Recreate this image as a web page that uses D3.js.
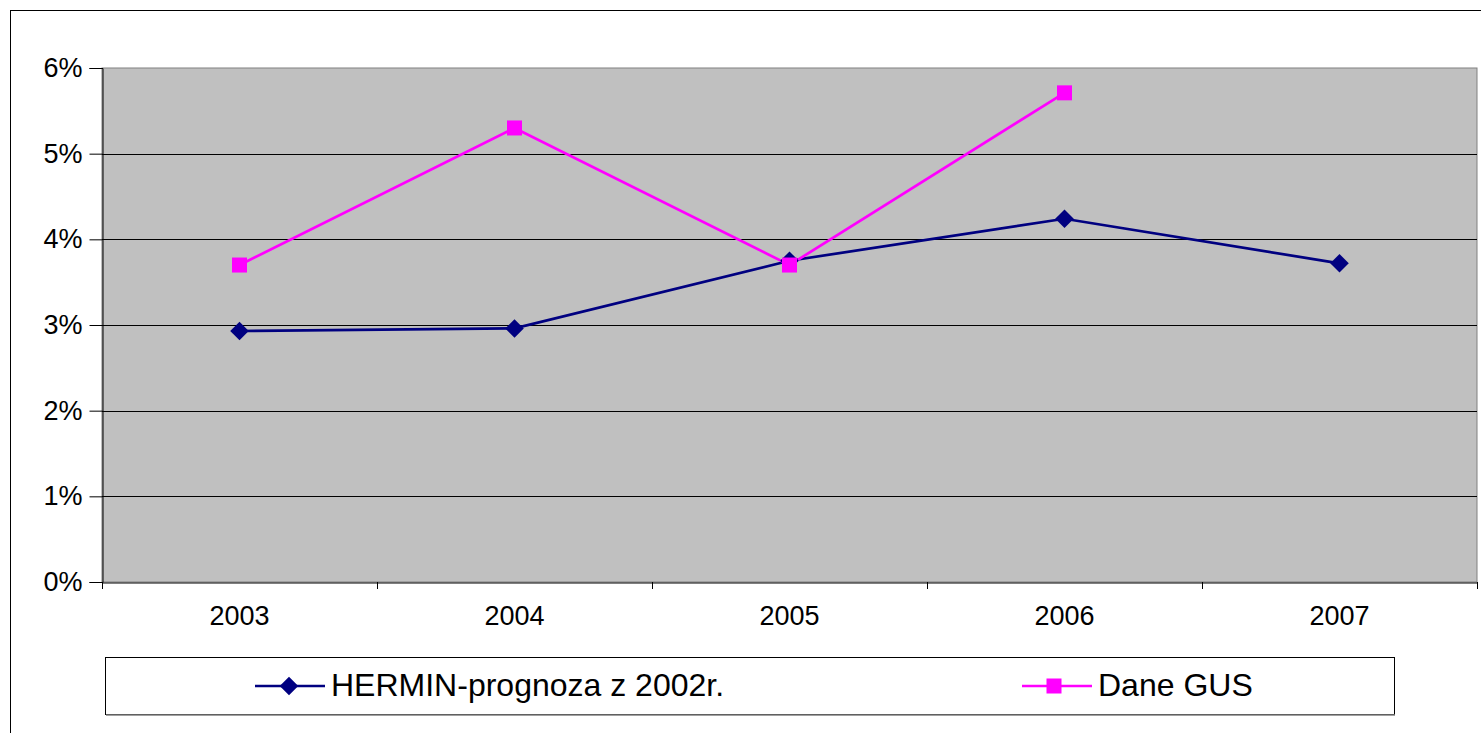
<!DOCTYPE html>
<html>
<head>
<meta charset="utf-8">
<script src="https://cdn.jsdelivr.net/npm/d3@7"></script>
<style>
  body { margin: 0; background: #fff; }
  svg { display: block; font-family: Arial, "Liberation Sans", sans-serif; }
</style>
</head>
<body>
<svg width="1481" height="733"></svg>
<script>
const years = ['2003', '2004', '2005', '2006', '2007'];
const hermin = [0.0293, 0.0296, 0.0375, 0.0424, 0.0372];
const gus = [0.0370, 0.0530, 0.0370, 0.0571, null];
const yTicks = [0, 0.01, 0.02, 0.03, 0.04, 0.05, 0.06];
const seriesNames = ['HERMIN-prognoza z 2002r.', 'Dane GUS'];

const svg = d3.select('svg');
const plotL = 102, plotR = 1477, plotT = 68, plotB = 582;

// outer chart border
svg.append('rect')
    .attr('x', 10.5).attr('y', 10.5)
    .attr('width', 1500).attr('height', 800)
    .attr('fill', 'none').attr('stroke', '#000');

const x = d3.scaleBand().domain(years).range([plotL, plotR]).padding(0);
const y = d3.scaleLinear().domain([0, 0.06]).range([plotB, plotT]);

svg.append('rect')
    .attr('x', plotL).attr('y', plotT)
    .attr('width', plotR - plotL).attr('height', plotB - plotT)
    .attr('fill', '#c0c0c0').attr('stroke', '#808080');

// gridlines
svg.append('g')
    .selectAll('line')
    .data(yTicks.slice(1, -1))
    .enter()
    .append('line')
    .attr('x1', plotL).attr('x2', plotR)
    .attr('y1', d => Math.round(y(d)) + 0.5).attr('y2', d => Math.round(y(d)) + 0.5)
    .attr('stroke', '#000');

const yAxis = svg.append('g')
    .attr('transform', `translate(${plotL + 0.5},0)`)
    .call(d3.axisLeft(y).tickValues(yTicks).tickFormat(d3.format('.0%')).tickSize(13).tickPadding(7));
yAxis.select('.domain').attr('stroke', '#000');
yAxis.selectAll('text').attr('font-size', 27).attr('fill', '#000').attr('font-family', 'Arial, "Liberation Sans", sans-serif');

const xAxis = svg.append('g')
    .attr('transform', `translate(0,${plotB + 0.5})`)
    .call(d3.axisBottom(x).tickSize(0).tickPadding(23));
xAxis.select('.domain').attr('stroke', '#000');
xAxis.selectAll('text').attr('font-size', 27).attr('fill', '#000').attr('font-family', 'Arial, "Liberation Sans", sans-serif');

// category boundary ticks
svg.append('g')
    .selectAll('line')
    .data(d3.range(years.length + 1))
    .enter()
    .append('line')
    .attr('x1', i => plotL + i * x.bandwidth() + 0.5)
    .attr('x2', i => plotL + i * x.bandwidth() + 0.5)
    .attr('y1', plotB).attr('y2', plotB + 7)
    .attr('stroke', '#000');

const cx = d => x(d) + x.bandwidth() / 2;
const diamond = d3.symbol().type(d3.symbolDiamond2).size(220);

const lineH = d3.line().x((d, i) => cx(years[i])).y(d => y(d));
svg.append('path')
    .datum(hermin)
    .attr('d', lineH)
    .attr('fill', 'none').attr('stroke', '#000080').attr('stroke-width', 2.7);

const lineG = d3.line().defined(d => d != null).x((d, i) => cx(years[i])).y(d => y(d));
svg.append('path')
    .datum(gus)
    .attr('d', lineG)
    .attr('fill', 'none').attr('stroke', '#ff00ff').attr('stroke-width', 2.7);

svg.append('g')
    .selectAll('path')
    .data(hermin)
    .enter()
    .append('path')
    .attr('d', diamond)
    .attr('transform', (d, i) => `translate(${cx(years[i])},${y(d)})`)
    .attr('fill', '#000080');

svg.append('g')
    .selectAll('rect')
    .data(gus.filter(d => d != null))
    .enter()
    .append('rect')
    .attr('x', (d, i) => cx(years[i]) - 7.5)
    .attr('y', d => y(d) - 7.5)
    .attr('width', 15).attr('height', 15)
    .attr('fill', '#ff00ff');

// legend
const legend = svg.append('g');
legend.append('rect')
    .attr('x', 105.5).attr('y', 657.5)
    .attr('width', 1289).attr('height', 57)
    .attr('fill', '#fff').attr('stroke', '#000');
legend.append('line')
    .attr('x1', 106).attr('x2', 1395)
    .attr('y1', 715).attr('y2', 715)
    .attr('stroke', '#808080').attr('stroke-width', 1.5);

const legendItems = [
    { name: seriesNames[0], color: '#000080', x: 255, marker: 'diamond' },
    { name: seriesNames[1], color: '#ff00ff', x: 1022, marker: 'square' }
];
const ly = 686;
legendItems.forEach(item => {
    legend.append('line')
        .attr('x1', item.x).attr('x2', item.x + 70)
        .attr('y1', ly).attr('y2', ly)
        .attr('stroke', item.color).attr('stroke-width', 2.7);
    if (item.marker === 'diamond') {
        legend.append('path')
            .attr('d', diamond)
            .attr('transform', `translate(${item.x + 34},${ly})`)
            .attr('fill', item.color);
    } else {
        legend.append('rect')
            .attr('x', item.x + 32 - 7.5).attr('y', ly - 7.5)
            .attr('width', 15).attr('height', 15)
            .attr('fill', item.color);
    }
    legend.append('text')
        .attr('x', item.x + 76).attr('y', ly + 10)
        .attr('font-size', 32)
        .attr('fill', '#000')
        .text(item.name);
});
</script>
</body>
</html>
